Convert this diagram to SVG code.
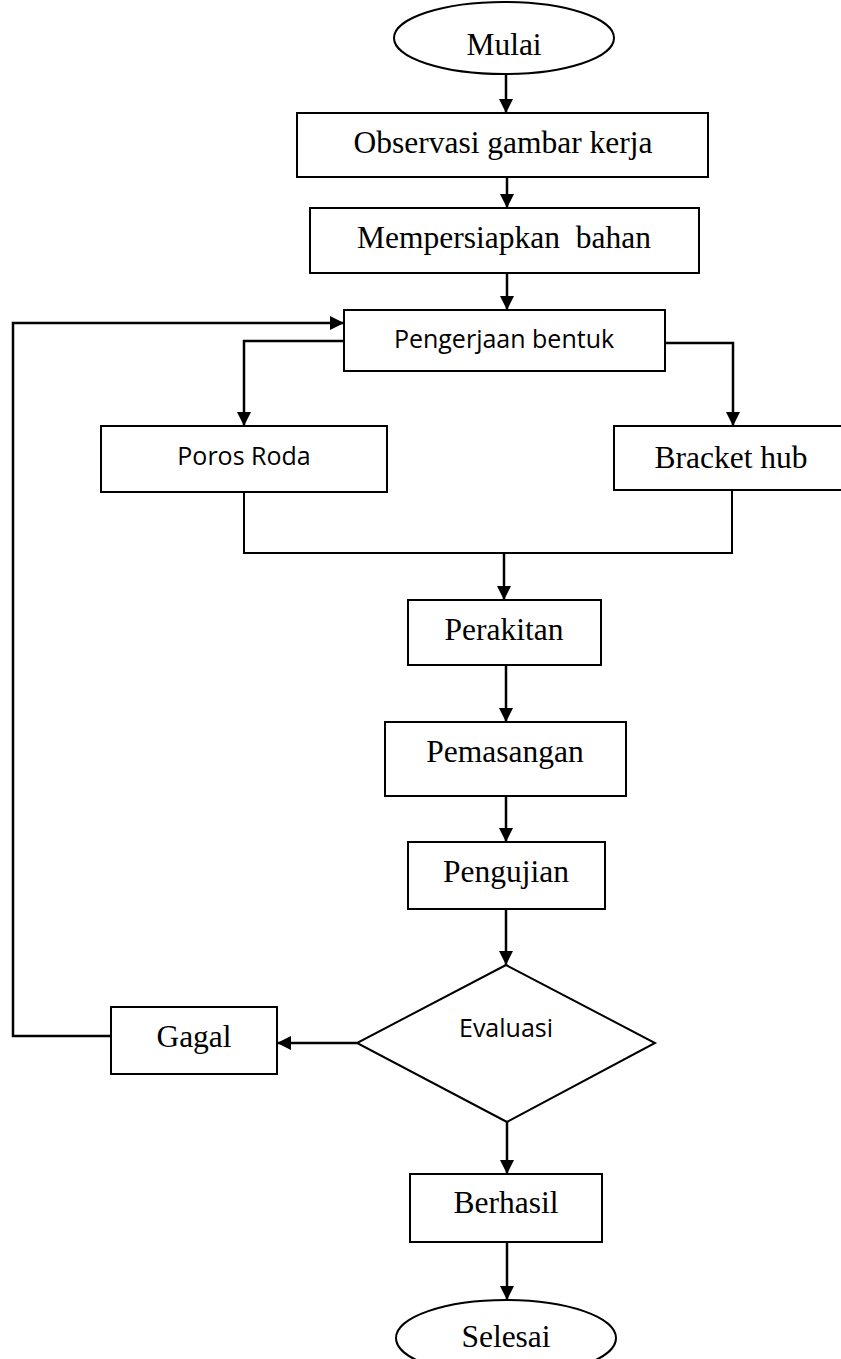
<svg xmlns="http://www.w3.org/2000/svg" width="841" height="1359" viewBox="0 0 841 1359">
<style>
.box{fill:#fff;stroke:#000;stroke-width:2}
.t{font-family:"Liberation Serif","Times New Roman",serif;font-size:31.5px;fill:#000;text-anchor:middle}
.s{font-family:"Open Sans","Noto Sans",sans-serif;font-size:25px;fill:#000;text-anchor:middle}
.c{fill:none;stroke:#000;stroke-width:2}
.a{fill:none;stroke:#000;stroke-width:2.5;marker-end:url(#ah)}
</style>
<defs>
<marker id="ah" markerUnits="userSpaceOnUse" markerWidth="15" markerHeight="14" refX="14" refY="7" orient="auto">
<path d="M0,0 L14,7 L0,14 Z" fill="#000"/>
</marker>
</defs>
<rect width="841" height="1359" fill="#fff"/>
<g id="connectors">
<line class="a" x1="506" y1="74" x2="506" y2="113"/>
<line class="a" x1="507" y1="177" x2="507" y2="208"/>
<line class="a" x1="507" y1="273" x2="507" y2="310"/>
<polyline class="a" points="344,341 244,341 244,426"/>
<polyline class="a" points="665,343 733,343 733,426"/>
<polyline class="c" points="244,492 244,553 732,553 732,490"/>
<line class="a" x1="504" y1="553" x2="504" y2="600"/>
<line class="a" x1="506" y1="665" x2="506" y2="722"/>
<line class="a" x1="506" y1="796" x2="506" y2="842"/>
<line class="a" x1="506" y1="909" x2="506" y2="965"/>
<line class="a" x1="357" y1="1043" x2="277" y2="1043"/>
<polyline class="a" points="111,1036 13,1036 13,323 344,323"/>
<line class="a" x1="507" y1="1122" x2="507" y2="1174"/>
<line class="a" x1="507" y1="1242" x2="507" y2="1300"/>
</g>
<g id="mulai">
<ellipse class="box" cx="504" cy="38" rx="110" ry="36"/>
<text class="t" x="504" y="55">Mulai</text>
</g>
<g id="observasi">
<rect class="box" x="297" y="113" width="411" height="64"/>
<text class="t" x="503" y="153">Observasi gambar kerja</text>
</g>
<g id="mempersiapkan">
<rect class="box" x="310" y="208" width="389" height="65"/>
<text class="t" x="504" y="248" xml:space="preserve">Mempersiapkan  bahan</text>
</g>
<g id="pengerjaan">
<rect class="box" x="344" y="310" width="321" height="61"/>
<text class="s" x="504" y="348">Pengerjaan bentuk</text>
</g>
<g id="poros">
<rect class="box" x="101" y="426" width="286" height="66"/>
<text class="s" x="244" y="465">Poros Roda</text>
</g>
<g id="bracket">
<rect class="box" x="614" y="426" width="232" height="64"/>
<text class="t" x="731" y="468">Bracket hub</text>
</g>
<g id="perakitan">
<rect class="box" x="408" y="600" width="193" height="65"/>
<text class="t" x="504" y="640">Perakitan</text>
</g>
<g id="pemasangan">
<rect class="box" x="385" y="722" width="241" height="74"/>
<text class="t" x="505" y="762">Pemasangan</text>
</g>
<g id="pengujian">
<rect class="box" x="408" y="842" width="197" height="67"/>
<text class="t" x="506" y="882">Pengujian</text>
</g>
<g id="evaluasi">
<polygon class="box" points="506,965 655,1043 507,1122 357,1043"/>
<text class="s" x="506" y="1037">Evaluasi</text>
</g>
<g id="gagal">
<rect class="box" x="111" y="1007" width="166" height="67"/>
<text class="t" x="194" y="1047">Gagal</text>
</g>
<g id="berhasil">
<rect class="box" x="410" y="1174" width="192" height="68"/>
<text class="t" x="506" y="1213">Berhasil</text>
</g>
<g id="selesai">
<ellipse class="box" cx="506" cy="1338" rx="110" ry="38"/>
<text class="t" x="506" y="1347">Selesai</text>
</g>
</svg>
